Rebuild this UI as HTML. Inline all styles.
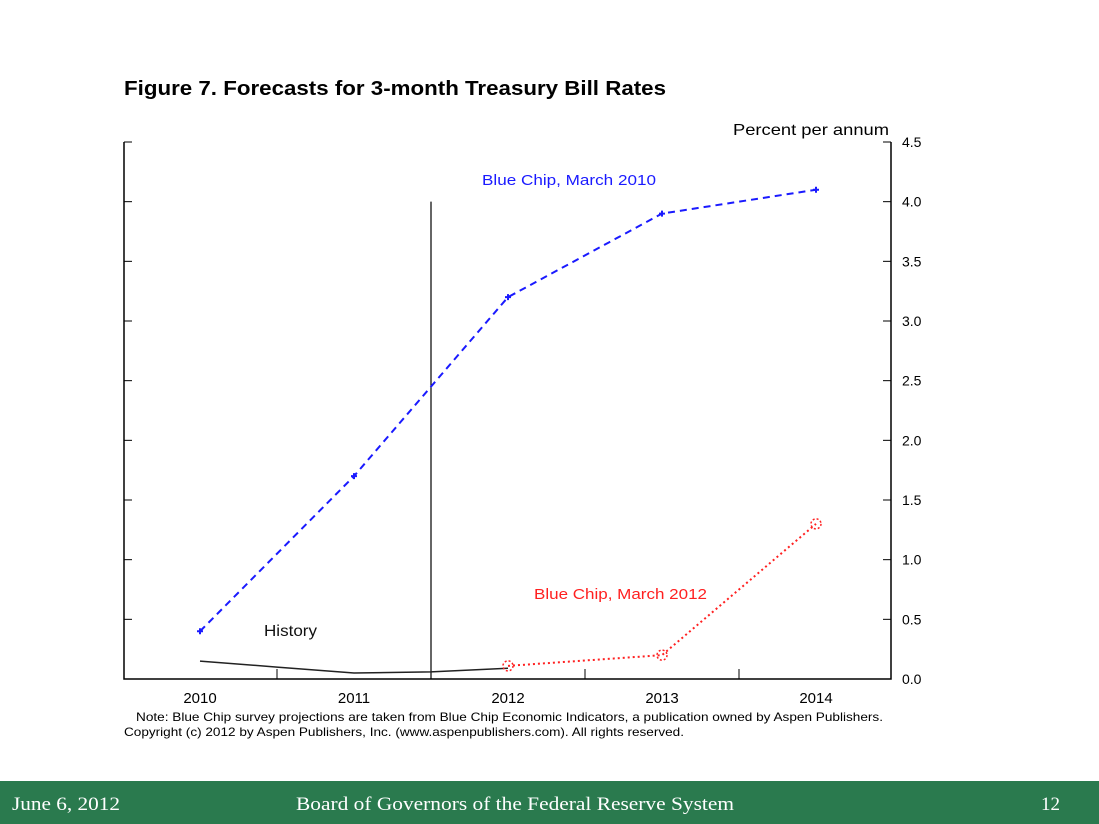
<!DOCTYPE html>
<html><head><meta charset="utf-8"><style>
body{margin:0;width:1099px;height:824px;background:#fff;position:relative;font-family:"Liberation Sans",sans-serif;overflow:hidden}
</style></head><body>
<svg width="1099" height="824" style="position:absolute;left:0;top:0">
<text x="124" y="95" font-size="20" font-weight="bold" fill="#000" textLength="542" lengthAdjust="spacingAndGlyphs">Figure 7.  Forecasts for 3-month Treasury Bill Rates</text>
<text x="733" y="135" font-size="16" fill="#000" textLength="156" lengthAdjust="spacingAndGlyphs">Percent per annum</text>
<g id="axes"></g>
<g id="marks"></g>
<text x="482" y="185" font-size="15" fill="#1a1aff" textLength="174" lengthAdjust="spacingAndGlyphs">Blue Chip, March 2010</text>
<text x="534" y="599" font-size="15" fill="#ff2020" textLength="173" lengthAdjust="spacingAndGlyphs">Blue Chip, March 2012</text>
<text x="264" y="636" font-size="16" fill="#111" textLength="53" lengthAdjust="spacingAndGlyphs">History</text>
<text x="136" y="721" font-size="12" fill="#000" textLength="747" lengthAdjust="spacingAndGlyphs">Note:  Blue Chip survey projections are taken from Blue Chip Economic Indicators, a publication owned by Aspen Publishers.</text>
<text x="124" y="736" font-size="12" fill="#000" textLength="560" lengthAdjust="spacingAndGlyphs">Copyright (c) 2012 by Aspen Publishers, Inc. (www.aspenpublishers.com). All rights reserved.</text>
<rect x="0" y="781" width="1099" height="43" fill="#2a7a4e"/>
<g font-family="Liberation Serif, serif" font-size="19" fill="#fff">
<text x="12" y="810" textLength="108" lengthAdjust="spacingAndGlyphs">June 6, 2012</text>
<text x="296" y="810" textLength="438" lengthAdjust="spacingAndGlyphs">Board of Governors of the Federal Reserve System</text>
<text x="1060" y="810" text-anchor="end">12</text>
</g>
</svg>
<script>
const years=[2010,2011,2012,2013,2014];
const yTicks=[0,0.5,1,1.5,2,2.5,3,3.5,4,4.5];
const yTickLabels=["0.0","0.5","1.0","1.5","2.0","2.5","3.0","3.5","4.0","4.5"];
const march2010=[0.4,1.7,3.2,3.9,4.1];
const march2012Years=[2012,2013,2014];
const march2012=[0.11,0.2,1.3];
const historyX=[2010,2010.5,2011,2011.5,2012];
const historyY=[0.15,0.1,0.05,0.06,0.09];
const cutoffYear=2011.5;
const NS="http://www.w3.org/2000/svg";
const L=124,R=891,T=142,B=679;
const x=v=>200+(v-2010)*154;
const y=v=>B-v*(B-T)/4.5;
function mk(tag,at,parent){const e=document.createElementNS(NS,tag);for(const k in at)e.setAttribute(k,at[k]);parent.appendChild(e);return e;}
const ax=document.getElementById('axes'),mg=document.getElementById('marks');
const fr=mk('path',{d:`M${L},${T}V${B}H${R}V${T}`,fill:'none',stroke:'#000','stroke-width':1.5},ax);


yTicks.forEach((t,i)=>{
 const yy=y(t);
 const a=mk('line',{x1:R,x2:R-8,y1:yy,y2:yy,stroke:'#000'},ax);
 
 
 const b=mk('line',{x1:L,x2:L+8,y1:yy,y2:yy,stroke:'#000'},ax);
 
 
 const tx=mk('text',{x:902,y:yy+5,'font-size':14,fill:'#000'},ax);tx.textContent=yTickLabels[i];
 
 
});
years.forEach(yr=>{
 const tx=mk('text',{x:x(yr),y:703,'font-size':15,'text-anchor':'middle',fill:'#000'},ax);tx.textContent=yr;
 
 
 if(yr<2014){const t=mk('line',{x1:x(yr+0.5),x2:x(yr+0.5),y1:B,y2:B-10,stroke:'#000'},ax);
 
 }
});
const vl=mk('line',{x1:x(cutoffYear),x2:x(cutoffYear),y1:y(4),y2:B,stroke:'#000','stroke-width':1.2},mg);


const hl=mk('polyline',{points:historyX.map((v,i)=>x(v)+','+y(historyY[i])).join(' '),fill:'none',stroke:'#222','stroke-width':1.5},mg);


const bl=mk('polyline',{points:years.map((v,i)=>x(v)+','+y(march2010[i])).join(' '),fill:'none',stroke:'#1a1aff','stroke-width':2,'stroke-dasharray':'7,5'},mg);


years.forEach((v,i)=>{const p=mk('path',{d:`M${x(v)-3},${y(march2010[i])}h6M${x(v)},${y(march2010[i])-3}v6`,stroke:'#1a1aff','stroke-width':2},mg);
 
 });
const rl=mk('polyline',{points:march2012Years.map((v,i)=>x(v)+','+y(march2012[i])).join(' '),fill:'none',stroke:'#ff2020','stroke-width':2,'stroke-dasharray':'2,3'},mg);


march2012Years.forEach((v,i)=>{const c=mk('circle',{cx:x(v),cy:y(march2012[i]),r:5,fill:'none',stroke:'#ff2020','stroke-width':1.5,'stroke-dasharray':'2,2'},mg);
 
 });
</script>
</body></html>
